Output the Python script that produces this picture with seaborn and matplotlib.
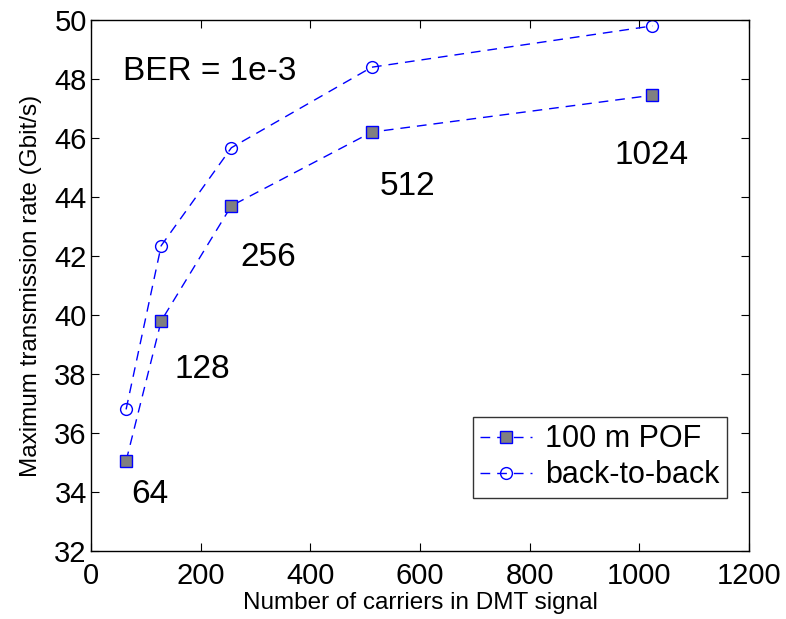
import matplotlib
matplotlib.use("Agg")
import matplotlib.pyplot as plt
import seaborn as sns
import pandas as pd

carriers = [64, 128, 256, 512, 1024]
pof_100m = [35.05, 39.8, 43.7, 46.2, 47.45]
back_to_back = [36.8, 42.35, 45.67, 48.4, 49.8]
annot_labels = ["64", "128", "256", "512", "1024"]
annot_x = [108, 203, 323, 577, 1022]
annot_y = [33.9, 38.15, 41.95, 44.35, 45.42]

sns.set_theme(style="white")
plt.rcParams['font.family'] = ['Liberation Sans', 'DejaVu Sans']

fig = plt.figure(figsize=(7.86, 6.19), dpi=100)
ax = fig.add_axes([91 / 786, 68 / 619, 658 / 786, 531 / 619])

df1 = pd.DataFrame({"x": carriers, "y": pof_100m})
df2 = pd.DataFrame({"x": carriers, "y": back_to_back})
sns.lineplot(data=df1, x="x", y="y", ax=ax, color="#0000FF", linestyle=(0, (7, 5)),
             linewidth=1.0, marker="s", markersize=8.5, markerfacecolor="#808080",
             markeredgecolor="#0000FF", markeredgewidth=1.0, label="100 m POF")
sns.lineplot(data=df2, x="x", y="y", ax=ax, color="#0000FF", linestyle=(0, (7, 5)),
             linewidth=1.0, marker="o", markersize=8.5, markerfacecolor="none",
             markeredgecolor="#0000FF", markeredgewidth=1.0, label="back-to-back")

for t, x, y in zip(annot_labels, annot_x, annot_y):
    ax.text(x, y, t, fontsize=24, ha="center", va="center", color="black")
ax.text(58, 48.24, "BER = 1e-3", fontsize=24, ha="left", va="center", color="black")

ax.set_xlim(0, 1200)
ax.set_ylim(32, 50)
ax.set_xticks(range(0, 1201, 200))
ax.set_yticks(range(32, 51, 2))
ax.tick_params(direction="in", length=6, width=0.8, labelsize=21, top=True, right=True,
               bottom=True, left=True, colors="black", labelcolor="black", pad=3)
ax.tick_params(axis="x", pad=8)
for s in ax.spines.values():
    s.set_color("black")
    s.set_linewidth(1.0)
ax.set_xlabel("Number of carriers in DMT signal", fontsize=17.5, labelpad=1, color="black")
ax.set_ylabel("Maximum transmission rate (Gbit/s)", fontsize=17.5, labelpad=9, color="black")

leg = ax.legend(loc="lower right", bbox_to_anchor=(0.9666, 0.0998), borderaxespad=0,
                fontsize=22, frameon=True, fancybox=False, edgecolor="black",
                handlelength=1.7, borderpad=0.25, labelspacing=0.2, handletextpad=0.42)
leg.get_frame().set_linewidth(1.0)
for t in leg.get_texts():
    t.set_color("black")

fig.savefig("out.png", dpi=100)
